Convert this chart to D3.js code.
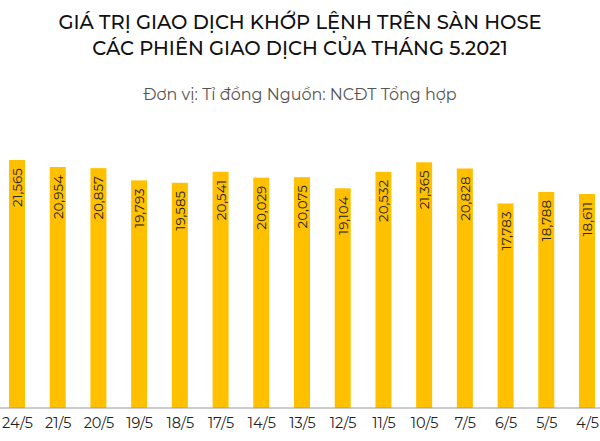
<!DOCTYPE html><html><head><meta charset="utf-8"><script src="https://cdn.jsdelivr.net/npm/d3@7"></script>
<style>body{margin:0;background:#fff}</style></head><body><svg width="600" height="441"></svg>
<script>
const categories=["24/5","21/5","20/5","19/5","18/5","17/5","14/5","13/5","12/5","11/5","10/5","7/5","6/5","5/5","4/5"];
const values=[21565,20954,20857,19793,19585,20541,20029,20075,19104,20532,21365,20828,17783,18788,18611];
const titleLines=["GIÁ TRỊ GIAO DỊCH KHỚP LỆNH TRÊN SÀN HOSE","CÁC PHIÊN GIAO DỊCH CỦA THÁNG 5.2021"];
const subtitle="Đơn vị: Tỉ đồng Nguồn: NCĐT Tổng hợp";
const svg=d3.select("svg"),F="Montserrat, 'Open Sans', sans-serif";
const x=d3.scalePoint().domain(categories).range([17,587]);
const y=d3.scaleLinear().domain([0,21565]).range([408,160]);
svg.selectAll(".t").data(titleLines).join("text").attr("x",300).attr("y",(d,i)=>29+i*26)
 .attr("text-anchor","middle").attr("font-family",F).attr("font-size",19.5).attr("font-weight",500).attr("fill","#111").text(d=>d);
svg.append("text").attr("x",300).attr("y",100).attr("text-anchor","middle").attr("font-family",F).attr("font-size",16).attr("fill","#555").text(subtitle);
svg.selectAll("rect").data(values).join("rect").attr("x",(d,i)=>x(categories[i])-8).attr("width",16)
 .attr("y",d=>y(d)).attr("height",d=>408-y(d)).attr("fill","#FFC000");
svg.selectAll(".v").data(values).join("text").attr("transform",(d,i)=>`translate(${x(categories[i])+5},${y(d)+8}) rotate(-90)`)
 .attr("text-anchor","end").attr("font-family",F).attr("font-size",13.5).attr("fill","#222").text(d=>d3.format(",")(d));
const ax=svg.append("g").attr("transform","translate(0,408)").call(d3.axisBottom(x).tickSize(0).tickPadding(10));
ax.select(".domain").attr("d","M0,0H600").attr("stroke","#999");
ax.selectAll("text").attr("font-family",F).attr("font-size",14.5).attr("fill","#222");
</script></body></html>
